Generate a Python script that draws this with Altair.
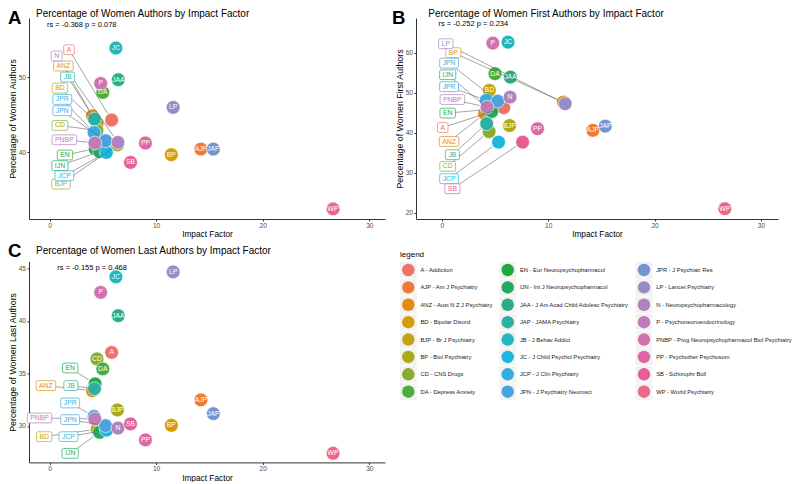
import math
import altair as alt
import pandas as pd

# ---------------- data ----------------
abbr = ["A", "AJP", "ANZ", "BD", "BJP", "BP", "CD", "DA", "EN", "IJN", "JAA", "JAP",
        "JB", "JC", "JCP", "JPN", "JPR", "LP", "N", "P", "PNBP", "PP", "SB", "WP"]
journal = ["Addiction", "Am J Psychiatry", "Aust N Z J Psychiatry", "Bipolar Disord",
           "Br J Psychiatry", "Biol Psychiatry", "CNS Drugs", "Depress Anxiety",
           "Eur Neuropsychopharmacol", "Int J Neuropsychopharmacol",
           "J Am Acad Child Adolesc Psychiatry", "JAMA Psychiatry", "J Behav Addict",
           "J Child Psychol Psychiatry", "J Clin Psychiatry", "J Psychiatry Neurosci",
           "J Psychiatr Res", "Lancet Psychiatry", "Neuropsychopharmacology",
           "Psychoneuroendocrinology", "Prog Neuropsychopharmacol Biol Psychiatry",
           "Psychother Psychosom", "Schizophr Bull", "World Psychiatry"]

impact = [5.83, 14.2, 4.03, 4.47, 6.37, 11.43, 4.45, 5.0, 4.28, 4.7, 6.45, 15.37,
          4.22, 6.23, 5.34, 5.26, 4.18, 11.6, 6.42, 4.8, 4.25, 9.0, 7.6, 26.6]

pct_all = [44.3, 40.45, 44.86, 43.9, 41.0, 39.7, 42.9, 47.96, 40.5, 40.1, 49.64, 40.45,
           44.43, 53.85, 40.0, 41.55, 42.65, 45.97, 41.33, 49.15, 41.25, 41.25, 38.67, 32.5]
pct_first = [46.25, 40.6, 44.75, 50.6, 41.8, 47.65, 40.3, 54.75, 45.8, 45.3, 53.9, 41.65,
             42.25, 62.65, 37.65, 47.9, 48.1, 47.25, 48.9, 62.4, 46.4, 41.0, 37.65, 21.0]
pct_last = [37.0, 32.48, 33.36, 29.7, 31.52, 30.06, 36.38, 35.43, 34.0, 29.4, 40.5, 31.17,
            33.55, 44.2, 29.6, 30.03, 30.9, 44.67, 29.8, 42.72, 30.67, 28.67, 30.19, 27.4]

# repelled label boxes (None = label printed inside the point)
labA_x = [1.83, None, 1.3, 0.98, 1.08, None, 0.98, None, 1.45, 0.98, None, None,
          1.7, None, 1.39, 1.2, 1.2, None, 0.67, None, 1.39, None, None, None]
labA_y = [53.62, None, 51.46, 48.54, 35.8, None, 43.58, None, 39.65, 38.24, None, None,
          50.0, None, 36.9, 45.53, 47.03, None, 52.8, None, 41.68, None, None, None]
labB_x = [0.09, None, 0.69, None, None, 1.09, 0.56, None, 0.56, 0.56, None, None,
          1.0, None, 0.69, 0.69, 0.69, 0.38, None, None, 1.0, None, 1.0, None]
labB_y = [41.3, None, 37.8, None, None, 60.0, 31.6, None, 44.9, 54.5, None, None,
          34.5, None, 28.5, 57.4, 51.5, 62.25, None, None, 48.3, None, 26.0, None]
labC_x = [None, None, -0.34, -0.5, None, None, None, None, 1.94, 1.94, None, None,
          2.0, None, 1.78, 1.94, 1.94, None, None, None, -0.94, None, None, None]
labC_y = [None, None, 33.84, 28.98, None, None, None, None, 35.52, 27.39, None, None,
          33.84, None, 28.98, 30.6, 32.19, None, None, None, 30.76, None, None, None]

rs_text = ["rs = -0.368 p = 0.078", "rs = -0.252 p = 0.234", "rs = -0.155 p = 0.468"]
rs_x = [3.02, 2.97, 4.0]
rs_y = [56.94, 67.08, 45.0]

titles = ["Percentage of Women Authors by Impact Factor",
          "Percentage of Women First Authors by Impact Factor",
          "Percentage of Women Last Authors by Impact Factor"]
ytitles = ["Percentage of Women Authors", "Percentage of Women First Authors",
           "Percentage of Women Last Authors"]
letters = ["A", "B", "C"]
x_ticks = [0, 10, 20, 30]
y_ticks = [[40, 50], [20, 30, 40, 50, 60], [30, 35, 40, 45]]
legend_labels = [f"{a} - {j}" for a, j in zip(abbr, journal)]

# legend key colours, in legend order (as they appear in the figure)
palette = ["#F07167", "#EE7A35", "#E58A0E", "#D69A0B", "#C3A315", "#ABA81A",
           "#88AD2C", "#4AAE3B", "#20A83D", "#23AA5F", "#2AAD84", "#2AB1A4",
           "#22B6C0", "#1DB7DE", "#34ADE3", "#4CA3DC", "#7296D0", "#978DC6",
           "#AE84BF", "#BF7CB9", "#CF72AF", "#DD67A4", "#E65E98", "#EC6887"]

# ---------------- styling helpers ----------------
FONT = "Liberation Sans"
FS_LAB = 6.8
R_PT = 7.6

# the points take their colour from the journal's alphabetical rank (full name)
sorted_names = sorted(journal)
point_color = [palette[sorted_names.index(j)] for j in journal]
draw_order = sorted(range(len(abbr)), key=lambda i: journal[i])

CHAR_W = {"A": 667, "B": 667, "C": 722, "D": 722, "E": 667, "I": 278, "J": 500,
          "L": 556, "N": 722, "P": 667, "R": 722, "S": 667, "Z": 611}


def text_w(s, fs):
    return sum(CHAR_W.get(ch, 600) for ch in s) * fs / 1000


def box_path(w, h, r=1.6):
    a, b = w / 2, h / 2
    return (f"M{-a + r:.2f},{-b:.2f}H{a - r:.2f}Q{a:.2f},{-b:.2f} {a:.2f},{-b + r:.2f}"
            f"V{b - r:.2f}Q{a:.2f},{b:.2f} {a - r:.2f},{b:.2f}H{-a + r:.2f}"
            f"Q{-a:.2f},{b:.2f} {-a:.2f},{b - r:.2f}V{-b + r:.2f}"
            f"Q{-a:.2f},{-b:.2f} {-a + r:.2f},{-b:.2f}Z")


def txt(text, x, y, **kw):
    return alt.Chart(pd.DataFrame({"t": [text]})).mark_text(font=FONT, **kw).encode(
        x=alt.value(x), y=alt.value(y), text="t:N")


def panel(k, yvals, labx, laby, xdom, ydom, W, H, lay):
    xr, yr = xdom[1] - xdom[0], ydom[1] - ydom[0]
    pts, inside, boxes = [], [], []
    for i in draw_order:
        x, y, col = impact[i], yvals[i], point_color[i]
        pts.append({"abbr": abbr[i], "x": x, "y": y, "hex": col})
        if labx[i] is None:
            inside.append({"abbr": abbr[i], "x": x, "y": y})
        else:
            lx, ly = labx[i], laby[i]
            px, py = (x - xdom[0]) / xr * W, (ydom[1] - y) / yr * H
            qx, qy = (lx - xdom[0]) / xr * W, (ydom[1] - ly) / yr * H
            d = math.hypot(qx - px, qy - py)
            ex, ey = px + (qx - px) * R_PT / d, py + (qy - py) * R_PT / d
            boxes.append({"abbr": abbr[i], "lx": lx, "ly": ly,
                          "ex": xdom[0] + ex / W * xr, "ey": ydom[1] - ey / H * yr,
                          "hex": col,
                          "path": box_path(text_w(abbr[i], FS_LAB) + 6.0, 9.8)})
    xs = alt.Scale(domain=xdom, nice=False, zero=False)
    ys = alt.Scale(domain=ydom, nice=False, zero=False)
    xax = alt.Axis(values=x_ticks, title="Impact Factor", labelFlush=False)
    yax = alt.Axis(values=y_ticks[k], title=ytitles[k], labelFlush=False)

    def X(f):
        return alt.X(f, scale=xs, axis=xax, title="Impact Factor")

    def Y(f):
        return alt.Y(f, scale=ys, axis=yax, title=ytitles[k])

    pdf, idf, bdf = pd.DataFrame(pts), pd.DataFrame(inside), pd.DataFrame(boxes)

    circles = alt.Chart(pdf).mark_circle(size=190, opacity=1, stroke="white",
                                         strokeWidth=0.6).encode(
        x=X("x:Q"), y=Y("y:Q"), color=alt.Color("hex:N", scale=None))
    segs = alt.Chart(bdf).mark_rule(color="#666666", strokeWidth=0.6).encode(
        x=X("lx:Q"), y=Y("ly:Q"), x2="ex:Q", y2="ey:Q")
    inner = alt.Chart(idf).mark_text(color="white", fontSize=FS_LAB, font=FONT).encode(
        x=X("x:Q"), y=Y("y:Q"), text="abbr:N")
    bx = alt.Chart(bdf).mark_point(size=4, filled=True, fill="white", opacity=1,
                                   strokeWidth=0.7).encode(
        x=X("lx:Q"), y=Y("ly:Q"),
        shape=alt.Shape("path:N", scale=None), stroke=alt.Stroke("hex:N", scale=None))
    btxt = alt.Chart(bdf).mark_text(fontSize=FS_LAB, font=FONT).encode(
        x=X("lx:Q"), y=Y("ly:Q"), text="abbr:N", color=alt.Color("hex:N", scale=None))
    rs = alt.Chart(pd.DataFrame({"t": [rs_text[k]], "x": [rs_x[k]], "y": [rs_y[k]]})
                   ).mark_text(fontSize=7.5, font=FONT, color="black").encode(
        x=X("x:Q"), y=Y("y:Q"), text="t:N")
    ttl = txt(titles[k], lay["tx"], lay["ty"], align="left", baseline="alphabetic",
              fontSize=10, color="black")
    let = txt(letters[k], lay["lx"], lay["ly"], align="left", baseline="alphabetic",
              fontSize=18.6, fontWeight="bold", color="black")
    return alt.layer(circles, segs, inner, bx, btxt, rs, ttl, let).properties(
        width=W, height=H)


H = 201
pA = panel(0, pct_all, labA_x, labA_y, [-1.923, 31.47], [31.17, 57.83], 356, H,
           {"tx": 7, "ty": -1.3, "lx": -21, "ly": 5.7})
pB = panel(1, pct_first, labB_x, labB_y, [-2.42, 31.6], [18.43, 68.68], 362, H,
           {"tx": 12.3, "ty": -1.3, "lx": -24, "ly": 5.7})
pC = panel(2, pct_last, labC_x, labC_y, [-1.923, 31.47], [26.53, 45.67], 356, H,
           {"tx": 7, "ty": -7.4, "lx": -21, "ly": -4.7})

# ---------------- legend panel ----------------
leg = pd.DataFrame({"label": legend_labels, "hex": palette,
                    "col": [i // 8 for i in range(len(abbr))],
                    "row": [i % 8 for i in range(len(abbr))]})
lx = alt.X("col:Q", scale=alt.Scale(domain=[0, 1, 2], range=[-7.7, 91.7, 228],
                                    nice=False, zero=False), axis=None)
ly = alt.Y("row:Q", scale=alt.Scale(domain=[0, 7], range=[8.6, 130.3],
                                    nice=False, zero=False), axis=None)
lbase = alt.Chart(leg)
keys = lbase.mark_square(size=272, color="#F2F2F2", opacity=1).encode(x=lx, y=ly)
dots = lbase.mark_circle(size=155, opacity=1).encode(
    x=lx, y=ly, color=alt.Color("hex:N", scale=None))
ltxt = lbase.mark_text(align="left", dx=12.2, fontSize=5.8, font=FONT,
                       color="#222222").encode(x=lx, y=ly, text="label:N")
ltitle = txt("legend", -16, -4.2, align="left", baseline="alphabetic", fontSize=8,
             color="black")
pL = alt.layer(keys, dots, ltxt, ltitle).properties(width=362, height=H)

chart = alt.concat(pA, pB, pC, pL, columns=2, spacing={"row": 42.4, "column": 31},
                   bounds="flush").properties(padding=0).configure_view(
    stroke=None).configure_axis(
    grid=False, domainColor="#333333", domainWidth=1, tickColor="#333333",
    tickWidth=1, tickSize=2, labelColor="#4D4D4D", labelFont=FONT, labelFontSize=6.6,
    labelPadding=1.5, titleFont=FONT, titleFontWeight="normal",
    titleColor="black").configure_axisX(titlePadding=0.5, titleFontSize=8.3
                                        ).configure_axisY(titlePadding=1,
                                                          titleFontSize=8.8)

chart.save("out.html", embed_options={"renderer": "svg", "actions": False})
